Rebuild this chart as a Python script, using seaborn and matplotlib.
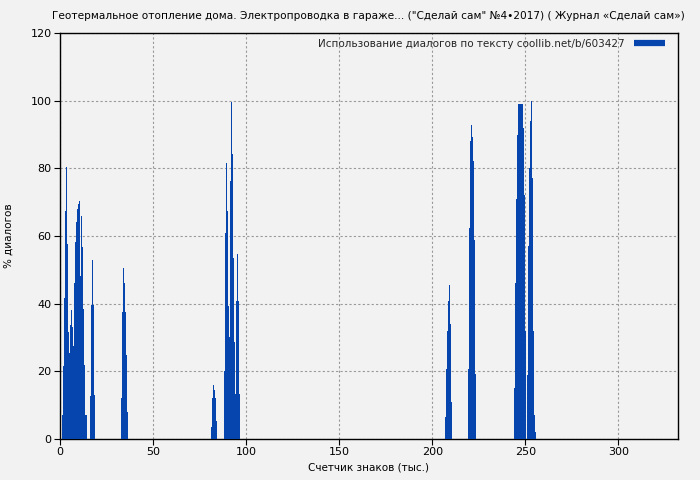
import matplotlib
matplotlib.use("Agg")
import matplotlib.pyplot as plt
import seaborn as sns
from matplotlib.lines import Line2D

# ---- data ----
x_c1 = [1.34, 1.88, 2.42, 2.95, 3.49, 4.03, 4.56, 5.10, 5.64, 6.17, 6.71, 7.25, 7.78,
        8.32, 8.86, 9.39, 9.93, 10.47, 11.00, 11.54, 12.08, 12.61, 13.15, 13.69, 14.22]
y_c1 = [7, 21.6, 41.8, 67.4, 80.5, 57.5, 31.7, 25.5, 33.7, 38.1, 33.2, 27.6, 46.2,
        58.3, 64.2, 68, 69.5, 70.3, 48.2, 66, 56.8, 38.3, 21.9, 7.1, 7.1]
x_c2 = [16.37, 16.91, 17.45, 17.98, 18.52]
y_c2 = [12.7, 39.6, 52.9, 39.6, 13]
x_c3 = [33.01, 33.55, 34.09, 34.62, 35.16, 35.70, 36.23]
y_c3 = [12.2, 37.6, 50.6, 46.2, 37.6, 24.8, 8.1]
x_c4 = [81.32, 81.86, 82.39, 82.93, 83.47, 84.00]
y_c4 = [3.6, 12, 16, 14.5, 12.2, 5.3]
x_c5 = [88.30, 88.83, 89.37, 89.91, 90.44, 90.98, 91.52, 92.05, 92.59, 93.13, 93.67,
        94.20, 94.74, 95.28, 95.81, 96.35]
y_c5 = [20.1, 61, 81.7, 67.4, 39.3, 30.2, 76.4, 99.7, 84.2, 53.6, 28.8,
        13.3, 40.8, 54.7, 40.9, 13.3]
x_c6 = [206.93, 207.47, 208.00, 208.54, 209.07, 209.61, 210.15]
y_c6 = [6.5, 20.6, 31.9, 40.8, 45.5, 34, 10.8]
x_c7 = [219.27, 219.81, 220.34, 220.88, 221.42, 221.95, 222.49, 223.03]
y_c7 = [20.6, 62.5, 88, 92.8, 89.4, 82.2, 58.8, 19.1]
x_c8 = [243.96, 244.50, 245.04, 245.57, 246.11, 246.65, 247.18, 247.72, 248.26, 248.79,
        249.33, 249.87, 250.94, 251.48, 252.01, 252.55, 253.09, 253.62, 254.16, 254.70,
        255.23]
y_c8 = [15, 46, 71, 90, 99, 99, 99, 99, 99, 92,
        72, 32, 19, 57, 80, 94, 100, 77, 32, 7,
        2]

x_ticks = [0, 50, 100, 150, 200, 250, 300]
y_ticks = [0, 20, 40, 60, 80, 100, 120]

title = 'Геотермальное отопление дома. Электропроводка в гараже... ("Сделай сам" №4•2017) ( Журнал «Сделай сам»)'
legend_label = "Использование диалогов по тексту coollib.net/b/603427"
x_label = "Счетчик знаков (тыс.)"
y_label = "% диалогов"

bar_color = "#0645ad"
bg = "#f2f2f2"

sns.set_theme(style="ticks")
plt.rcParams["font.family"] = ["DejaVu Sans"]

fig = plt.figure(figsize=(7, 4.8), dpi=100, facecolor=bg)
ax = fig.add_axes([60 / 700, 1 - 439 / 480, 618 / 700, 406 / 480])
ax.set_facecolor(bg)

xs = x_c1 + x_c2 + x_c3 + x_c4 + x_c5 + x_c6 + x_c7 + x_c8
ys = y_c1 + y_c2 + y_c3 + y_c4 + y_c5 + y_c6 + y_c7 + y_c8
ax.bar(xs, ys, width=0.6, color=bar_color, linewidth=0, align="center", zorder=3)

ax.set_xlim(0, 332)
ax.set_ylim(0, 120)
ax.set_xticks(x_ticks)
ax.set_yticks(y_ticks)
ax.tick_params(axis="both", labelsize=8, length=4, width=0.8, color="black",
               labelcolor="black", direction="out", pad=2)
ax.grid(True, color="#999999", linestyle=(0, (2, 2)), linewidth=0.8, zorder=0)
for s in ax.spines.values():
    s.set_color("black")
    s.set_linewidth(1.0)
    s.set_visible(True)

fig.text(368 / 700, 1 - 16 / 480, title, fontsize=7.6, ha="center", va="center",
         color="black")
ax.set_xlabel(x_label, fontsize=7.5, labelpad=4, color="black")
ax.set_ylabel(y_label, fontsize=7.5, labelpad=12, color="black")

handle = Line2D([0], [0], color=bar_color, lw=4.5, solid_capstyle="butt")
ax.legend([handle], [legend_label], loc="upper right", frameon=False, fontsize=7.5,
          markerfirst=False, handlelength=3.0, handletextpad=0.9,
          borderaxespad=0.0, borderpad=0.0, bbox_to_anchor=(0.979, 0.985))

fig.savefig("out.png", dpi=100, facecolor=bg)
